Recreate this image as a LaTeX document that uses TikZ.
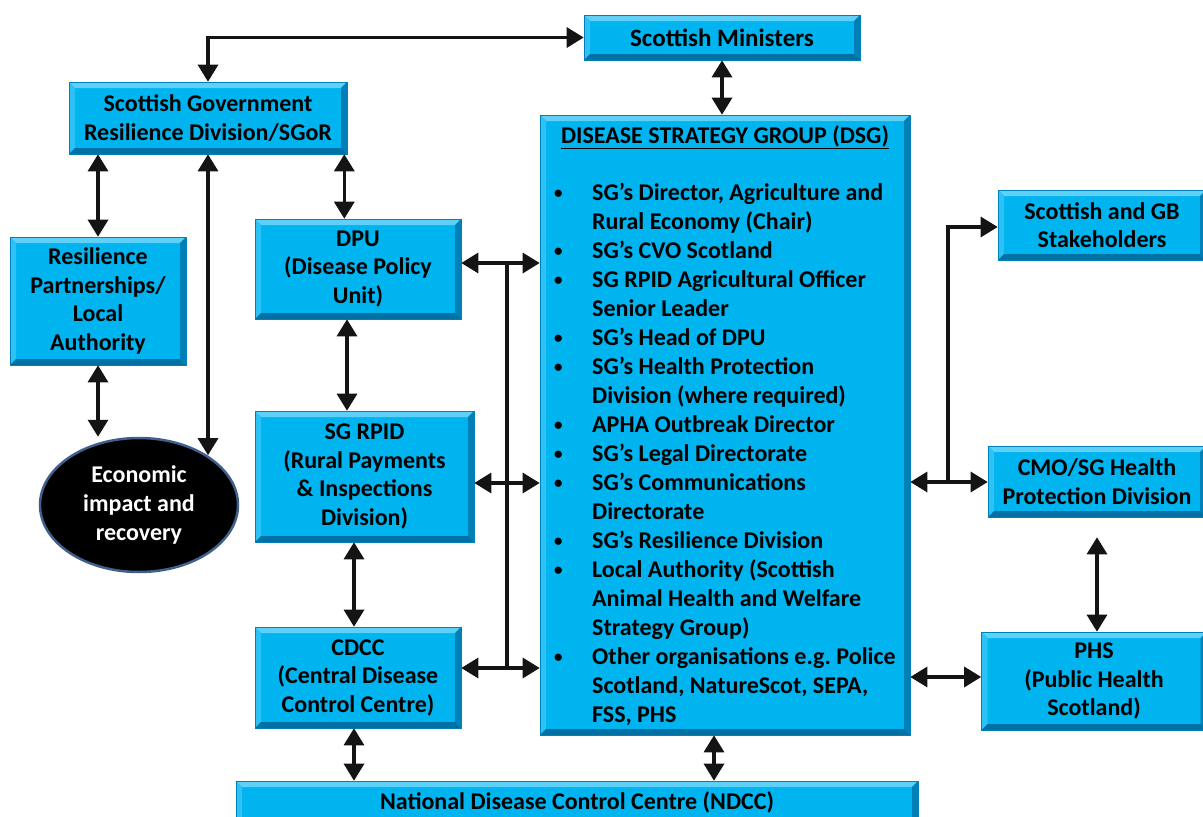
\documentclass[tikz,border=0pt]{standalone}
\usepackage{fontspec}
\setmainfont{Carlito}
\usetikzlibrary{arrows.meta,calc,shapes.geometric}
\definecolor{boxface}{RGB}{0,180,240}
\definecolor{bevtop}{RGB}{95,208,248}
\definecolor{bevleft}{RGB}{45,194,245}
\definecolor{bevright}{RGB}{0,128,182}
\definecolor{bevbot}{RGB}{0,112,165}
\definecolor{linecol}{RGB}{20,20,20}
\definecolor{ringcol}{RGB}{65,95,140}
\tikzset{
  bevel/.style={path picture={
    \path (path picture bounding box.north west) coordinate (pNW)
          (path picture bounding box.north east) coordinate (pNE)
          (path picture bounding box.south west) coordinate (pSW)
          (path picture bounding box.south east) coordinate (pSE);
    \fill[bevtop] (pNW) -- (pNE) -- ($(pNE)+(-6pt,-6pt)$) -- ($(pNW)+(6pt,-6pt)$) -- cycle;
    \fill[bevleft] (pNW) -- ($(pNW)+(6pt,-6pt)$) -- ($(pSW)+(6pt,6pt)$) -- (pSW) -- cycle;
    \fill[bevright] (pNE) -- (pSE) -- ($(pSE)+(-6pt,6pt)$) -- ($(pNE)+(-6pt,-6pt)$) -- cycle;
    \fill[bevbot] (pSW) -- (pSE) -- ($(pSE)+(-6pt,6pt)$) -- ($(pSW)+(6pt,6pt)$) -- cycle;
  }},
  box/.style={fill=boxface, draw=bevright, line width=0.6pt, bevel, align=center,
    inner sep=2pt, text=black, font=\bfseries\fontsize{24}{28.5}\selectfont},
  listtext/.style={inner sep=0pt, align=left, text=black,
    font=\bfseries\fontsize{24}{29}\selectfont},
  ecoshape/.style={ellipse, fill=black, draw=ringcol, line width=2.5pt, text=white,
    align=center, inner sep=0pt, font=\bfseries\fontsize{24}{28.7}\selectfont},
  biarrow/.style={draw=linecol, line width=3.2pt,
    arrows={Triangle[length=17pt,width=20pt]-Triangle[length=17pt,width=20pt]}},
  onearrow/.style={draw=linecol, line width=3.2pt,
    arrows={-Triangle[length=17pt,width=20pt]}},
  busline/.style={draw=linecol, line width=3.2pt},
}
\newcommand{\bul}{\makebox[37pt][l]{\hspace*{-1pt}{\fontsize{17}{17}\selectfont\raisebox{1.5pt}{\textbullet}}}}
\newcommand{\ind}{\hspace*{37pt}}
\begin{document}
\begin{tikzpicture}[x=1pt,y=-1pt]
\useasboundingbox (0,0) rectangle (1203,817);
\clip (0,0) rectangle (1203,817);
\fill[white] (0,0) rectangle (1203,817);

% boxes
\node[box, minimum width=276pt, minimum height=45pt, font=\bfseries\fontsize{25}{29}\selectfont] (min) at (722,37.5) {Scottish Ministers};
\node[box, minimum width=278pt, minimum height=72pt] (sgor) at (208,118) {Scottish Government\\Resilience Division/SGoR};
\node[box, minimum width=176pt, minimum height=128pt] (res) at (98,301) {Resilience\\Partnerships/\\Local\\Authority};
\node[box, minimum width=206pt, minimum height=100pt] (dpu) at (358,269) {DPU\\(Disease Policy\\Unit)};
\node[box, minimum width=219pt, minimum height=131pt] (rpid) at (364.5,476.5) {SG RPID\\(Rural Payments\\\& Inspections\\Division)};
\node[box, minimum width=206pt, minimum height=101pt] (cdcc) at (358,677.5) {CDCC\\(Central Disease\\Control Centre)};
\node[box, minimum width=682pt, minimum height=42pt] (ndcc) at (577,802) {National Disease Control Centre (NDCC)};
\node[box, minimum width=370pt, minimum height=620pt] (dsg) at (725,425) {};
\node[box, minimum width=208pt, minimum height=70pt] (stake) at (1102,225) {Scottish and GB\\Stakeholders};
\node[box, minimum width=218pt, minimum height=71pt] (cmo) at (1097,481.5) {CMO/SG Health\\Protection Division};
\node[box, minimum width=225pt, minimum height=98pt] (phs) at (1094,681) {PHS\\(Public Health\\Scotland)};
\node[ecoshape, minimum width=198pt, minimum height=134pt] (eco) at (139,505) {Economic\\impact and\\recovery};

% DSG contents
\node[listtext, anchor=base] (dsghead) at (725,143) {\underline{DISEASE STRATEGY GROUP (DSG)}};
\node[listtext, anchor=base west] (dsglist) at (555,722) {%
\bul SG’s Director, Agriculture and\\
\ind Rural Economy (Chair)\\
\bul SG’s CVO Scotland\\
\bul SG RPID Agricultural Officer\\
\ind Senior Leader\\
\bul SG’s Head of DPU\\
\bul SG’s Health Protection\\
\ind Division (where required)\\
\bul APHA Outbreak Director\\
\bul SG’s Legal Directorate\\
\bul SG’s Communications\\
\ind Directorate\\
\bul SG’s Resilience Division\\
\bul Local Authority (Scottish\\
\ind Animal Health and Welfare\\
\ind Strategy Group)\\
\bul Other organisations e.g.\ Police\\
\ind Scotland, NatureScot, SEPA,\\
\ind FSS, PHS};

% helper coordinates
\coordinate (c1) at ($(sgor.south east)+(-3,0)$);
\coordinate (c2) at ($(dpu.south)+(-11,0)$);
\coordinate (c3) at ($(cdcc.north)+(-4,0)$);
\coordinate (c4) at ($(dsg.south)+(-11,0)$);
\coordinate (b1) at (507,263);
\coordinate (b2) at (507,483);
\coordinate (b3) at (507,668);
\coordinate (b4) at (948,227);
\coordinate (b5) at (948,482);
\coordinate (b6) at (948,677);

% connectors
\draw[biarrow] (sgor.north) |- (min.west);
\draw[biarrow] (min.south) -- (min.south |- dsg.north);
\draw[biarrow] (res.north |- sgor.south) -- (res.north);
\draw[biarrow] (eco.36 -| sgor.south) -- (sgor.south);
\draw[biarrow] (c1) -- (c1 |- dpu.north);
\draw[biarrow] (res.south) -- (res.south |- eco.north);
\draw[biarrow] (c2) -- (c2 |- rpid.north);
\draw[biarrow] (c3 |- rpid.south) -- (c3);
\draw[biarrow] (c3 |- cdcc.south) -- (c3 |- ndcc.north);
\draw[biarrow] (c4) -- (c4 |- ndcc.north);
\draw[busline] (b1) -- (b3);
\draw[biarrow] (dpu.east |- b1) -- (dsg.west |- b1);
\draw[biarrow] (rpid.east |- b2) -- (dsg.west |- b2);
\draw[biarrow] (cdcc.east |- b3) -- (dsg.west |- b3);
\draw[onearrow] (b5) |- (stake.west |- b4);
\draw[biarrow] (dsg.east |- b5) -- (cmo.west |- b5);
\draw[biarrow, shorten <=20pt] (cmo.south) -- (cmo.south |- phs.north);
\draw[biarrow] (dsg.east |- b6) -- (phs.west |- b6);
\end{tikzpicture}
\end{document}
